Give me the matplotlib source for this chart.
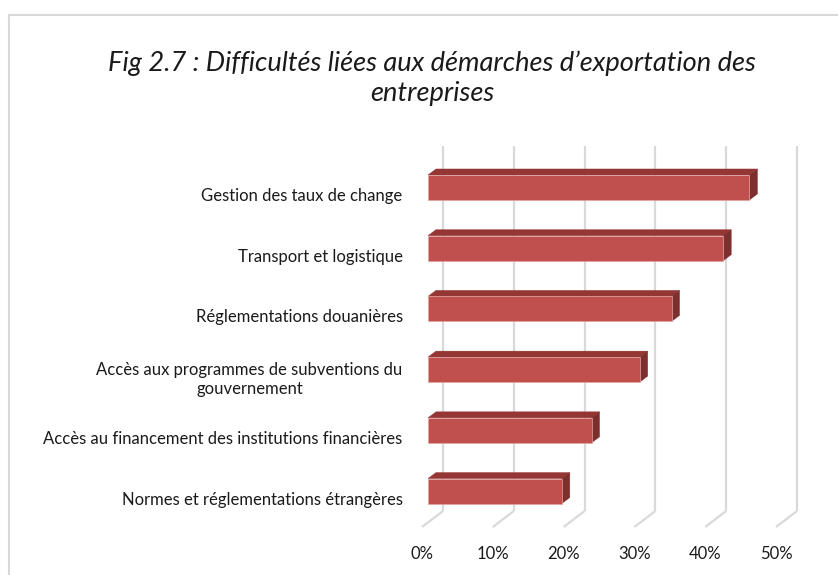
import numpy as np
import matplotlib
matplotlib.use("Agg")
import matplotlib.pyplot as plt
from matplotlib.patches import Polygon
from matplotlib.lines import Line2D
from matplotlib.transforms import Affine2D

plt.rcParams["font.family"] = ["Lato", "DejaVu Sans"]

# ── données ──────────────────────────────────────────────────
CATEGORIES = [
    "Gestion des taux de change",
    "Transport et logistique",
    "Réglementations douanières",
    "Accès aux programmes de subventions du\ngouvernement",
    "Accès au financement des institutions financières",
    "Normes et réglementations étrangères",
]
VALUES = [45.4, 41.7, 34.4, 29.9, 23.1, 18.9]   # en %
XTICKS = [0, 10, 20, 30, 40, 50]
XTICK_LABELS = ["0%", "10%", "20%", "30%", "40%", "50%"]
TITLE = "Fig 2.7 : Difficultés liées aux démarches d’exportation des\nentreprises"

# ── style ────────────────────────────────────────────────────
W, H, DPI = 838, 575, 100
FRONT = "#C0504D"
TOP = "#943634"
SIDE = "#7C2F2D"
EDGE = "#E3A3A1"
GRID = "#D9D9D9"
TXT = "#1A1A1A"

# profondeur (pixels) : mur du fond -> avant du sol / avant et arrière des barres
FLOOR_D = (-21, 16)
BAR_FRONT_D = (-15, 11)
BAR_BACK_D = (-7, 5)
BAR_H_PX = 25

fig = plt.figure(figsize=(W / DPI, H / DPI), dpi=DPI)
# axe = plan du mur du fond
ax = fig.add_axes([443 / W, 64 / H, 354 / W, 365 / H])
ax.set_xlim(0, 50)
ax.set_ylim(5.51, -0.502)
for s in ax.spines.values():
    s.set_visible(False)
ax.patch.set_visible(False)

ppx = 354 / 50.0            # pixels par %
ppy = 365 / (5.51 + 0.502)  # pixels par catégorie


def off(d):
    """décalage pixel -> unités de données (y inversé)"""
    return d[0] / ppx, d[1] / ppy


# mur du fond : grilles verticales + lignes du sol
fdx, fdy = off(FLOOR_D)
ybot, ytop = 5.51, -0.502
for x in XTICKS:
    ax.add_line(Line2D([x, x], [ytop, ybot], color=GRID, lw=1.6,
                       solid_capstyle="butt", zorder=1, clip_on=False))
    ax.add_line(Line2D([x, x + fdx], [ybot, ybot + fdy], color=GRID, lw=1.6,
                       solid_capstyle="butt", zorder=1, clip_on=False))

# barres 3D
bfx, bfy = off(BAR_FRONT_D)
bbx, bby = off(BAR_BACK_D)
bh = BAR_H_PX / ppy
ys = np.arange(len(CATEGORIES))
bars = ax.barh(ys + bfy, VALUES, height=bh, left=bfx, color=FRONT,
               edgecolor=EDGE, linewidth=0.5, zorder=3)
for b in bars:
    b.set_clip_on(False)
for y, v in zip(ys, VALUES):
    top = y + bfy - bh / 2
    bot = y + bfy + bh / 2
    dy = bby - bfy
    ax.add_patch(Polygon([(bfx, top), (bbx, top + dy), (bbx + v, top + dy),
                          (bfx + v, top)], closed=True, facecolor=TOP,
                         edgecolor=TOP, lw=0.3, zorder=2.9, clip_on=False))
    ax.add_patch(Polygon([(bfx + v, top), (bbx + v, top + dy),
                          (bbx + v, bot + dy), (bfx + v, bot)], closed=True,
                         facecolor=SIDE, edgecolor=SIDE, lw=0.3, zorder=2.9,
                         clip_on=False))

# étiquettes des catégories
ax.set_yticks(ys)
ax.set_yticklabels(CATEGORIES, fontsize=12, color=TXT, ha="right",
                   multialignment="center")
ax.tick_params(axis="y", length=0, pad=29)
for lbl in ax.get_yticklabels():
    lbl.set_transform(lbl.get_transform() + Affine2D().translate(0, -18))

# étiquettes de l'axe des x (sur l'avant du sol)
ax.set_xticks(XTICKS)
ax.set_xticklabels(XTICK_LABELS, fontsize=12, color=TXT)
ax.tick_params(axis="x", length=0, pad=25)
for lbl in ax.get_xticklabels():
    lbl.set_transform(lbl.get_transform() + Affine2D().translate(FLOOR_D[0], 0))

# titre
fig.text(432 / W, 1 - 78 / H, TITLE, ha="center", va="center",
         fontsize=19.6, style="italic", color=TXT, linespacing=1.25)

# cadre du graphique (coupé à droite et en bas)
fig.add_artist(Line2D([9 / W, 1], [1 - 15 / H, 1 - 15 / H],
                      transform=fig.transFigure, color=GRID, lw=1.5))
fig.add_artist(Line2D([9 / W, 9 / W], [0, 1 - 15 / H],
                      transform=fig.transFigure, color=GRID, lw=1.5))

fig.savefig("out.png", dpi=DPI, facecolor="white")
